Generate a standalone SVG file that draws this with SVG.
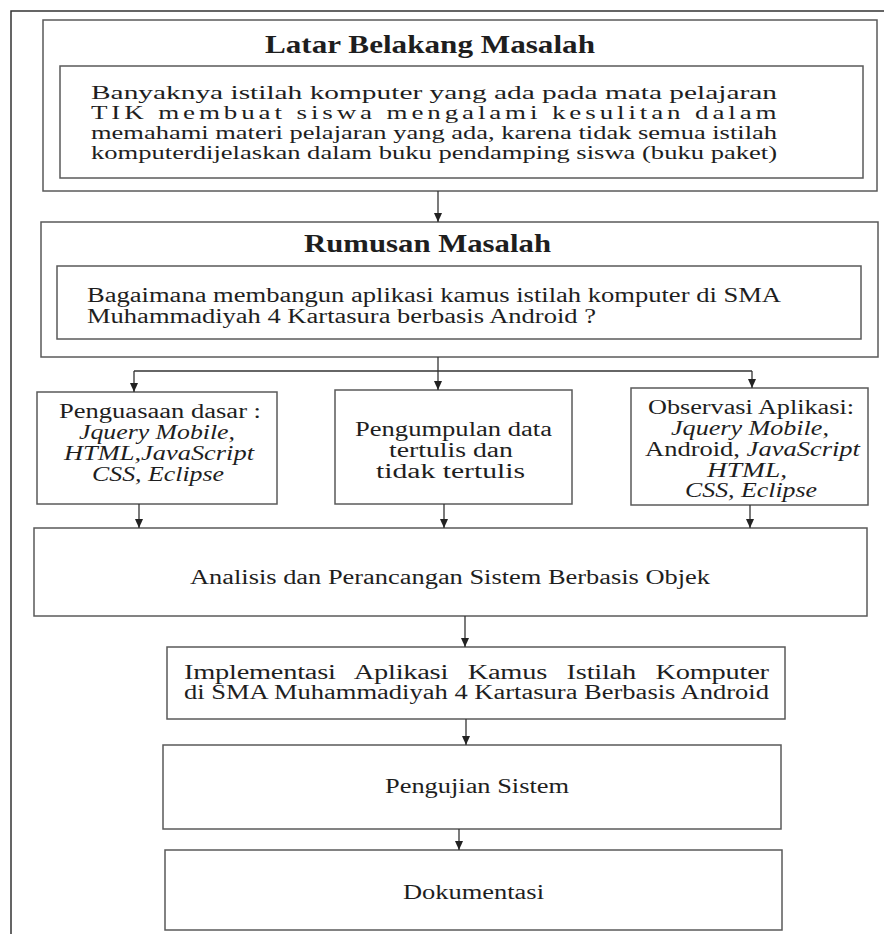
<svg xmlns="http://www.w3.org/2000/svg" width="884" height="934" viewBox="0 0 884 934">
<style>
.bx{fill:#fff;stroke:#5a5a5a;stroke-width:1.5}
.fr{fill:none;stroke:#333;stroke-width:1.5}
.cn{fill:none;stroke:#333;stroke-width:1.3}
.t{font-family:"Liberation Serif","Times New Roman",serif;font-size:20px;fill:#1e1e1e}
.s{font-size:18px}
.tt{font-family:"Liberation Serif","Times New Roman",serif;font-size:25px;font-weight:bold;fill:#1e1e1e}
.i{font-style:italic}
</style>
<defs>
<marker id="ah" markerUnits="userSpaceOnUse" markerWidth="9" markerHeight="8" refX="9" refY="4" orient="auto">
<path d="M0,0 L9,4 L0,8 Z" fill="#222"/>
</marker>
</defs>
<path class="fr" d="M11,934 V11 H884"/>
<g id="latar">
<rect class="bx" x="43" y="20" width="834" height="171"/>
<text class="tt" x="265" y="53" textLength="330" lengthAdjust="spacingAndGlyphs">Latar Belakang Masalah</text>
<rect class="bx" x="60" y="66" width="803" height="112"/>
<text class="t s" x="91" y="99" textLength="686" lengthAdjust="spacingAndGlyphs">Banyaknya istilah komputer yang ada pada mata pelajaran</text>
<g transform="translate(91,0) scale(1.5,1)">
<text class="t s" x="0" y="119" textLength="457" lengthAdjust="spacing">TIK membuat siswa mengalami kesulitan dalam</text>
</g>
<text class="t s" x="91" y="139" textLength="686" lengthAdjust="spacingAndGlyphs">memahami materi pelajaran yang ada, karena tidak semua istilah</text>
<text class="t s" x="91" y="159" textLength="686" lengthAdjust="spacingAndGlyphs">komputerdijelaskan dalam buku pendamping siswa (buku paket)</text>
</g>
<g id="rumusan">
<rect class="bx" x="41" y="222" width="837" height="135"/>
<text class="tt" x="304" y="252" textLength="247" lengthAdjust="spacingAndGlyphs">Rumusan Masalah</text>
<rect class="bx" x="57" y="266" width="804" height="73"/>
<text class="t" x="87" y="302" textLength="694" lengthAdjust="spacingAndGlyphs">Bagaimana membangun aplikasi kamus istilah komputer di SMA</text>
<text class="t" x="87" y="323" textLength="509" lengthAdjust="spacingAndGlyphs">Muhammadiyah 4 Kartasura berbasis Android ?</text>
</g>
<g id="penguasaan">
<rect class="bx" x="37" y="392" width="240" height="112"/>
<text class="t" x="59" y="418" textLength="202" lengthAdjust="spacingAndGlyphs">Penguasaan dasar :</text>
<text class="t i" x="79" y="439" textLength="156" lengthAdjust="spacingAndGlyphs">Jquery Mobile,</text>
<text class="t i" x="64" y="460" textLength="190" lengthAdjust="spacingAndGlyphs">HTML,JavaScript</text>
<text class="t i" x="92" y="481" textLength="132" lengthAdjust="spacingAndGlyphs">CSS, Eclipse</text>
</g>
<g id="pengumpulan">
<rect class="bx" x="335" y="390" width="237" height="114"/>
<text class="t" x="355" y="436" textLength="197" lengthAdjust="spacingAndGlyphs">Pengumpulan data</text>
<text class="t" x="389" y="457" textLength="124" lengthAdjust="spacingAndGlyphs">tertulis dan</text>
<text class="t" x="376" y="478" textLength="149" lengthAdjust="spacingAndGlyphs">tidak tertulis</text>
</g>
<g id="observasi">
<rect class="bx" x="631" y="388" width="237" height="117"/>
<text class="t" x="648" y="414" textLength="206" lengthAdjust="spacingAndGlyphs">Observasi Aplikasi:</text>
<text class="t i" x="671" y="435" textLength="158" lengthAdjust="spacingAndGlyphs">Jquery Mobile,</text>
<text class="t" x="645" y="456" textLength="215" lengthAdjust="spacingAndGlyphs">Android, <tspan class="i">JavaScript</tspan></text>
<text class="t i" x="707" y="477" textLength="80" lengthAdjust="spacingAndGlyphs">HTML,</text>
<text class="t i" x="685" y="497" textLength="132" lengthAdjust="spacingAndGlyphs">CSS, Eclipse</text>
</g>
<g id="analisis">
<rect class="bx" x="34" y="528" width="833" height="88"/>
<text class="t" x="190" y="584" textLength="520" lengthAdjust="spacingAndGlyphs">Analisis dan Perancangan Sistem Berbasis Objek</text>
</g>
<g id="implementasi">
<rect class="bx" x="167" y="647" width="618" height="72"/>
<g transform="translate(184,0) scale(1.42,1)">
<text class="t" x="0" y="679" style="word-spacing:9px" textLength="412" lengthAdjust="spacing">Implementasi Aplikasi Kamus Istilah Komputer</text>
</g>
<text class="t" x="184" y="699" textLength="585" lengthAdjust="spacingAndGlyphs">di SMA Muhammadiyah 4 Kartasura Berbasis Android</text>
</g>
<g id="pengujian">
<rect class="bx" x="163" y="745" width="618" height="84"/>
<text class="t" x="385" y="793" textLength="184" lengthAdjust="spacingAndGlyphs">Pengujian Sistem</text>
</g>
<g id="dokumentasi">
<rect class="bx" x="165" y="850" width="617" height="80"/>
<text class="t" x="403" y="899" textLength="141" lengthAdjust="spacingAndGlyphs">Dokumentasi</text>
</g>
<g id="connectors">
<line class="cn" x1="438" y1="191" x2="438" y2="222" marker-end="url(#ah)"/>
<line class="cn" x1="438" y1="357" x2="438" y2="390" marker-end="url(#ah)"/>
<path class="cn" d="M134,371 H752"/>
<line class="cn" x1="134" y1="371" x2="134" y2="392" marker-end="url(#ah)"/>
<line class="cn" x1="752" y1="371" x2="752" y2="388" marker-end="url(#ah)"/>
<line class="cn" x1="139" y1="504" x2="139" y2="528" marker-end="url(#ah)"/>
<line class="cn" x1="444" y1="504" x2="444" y2="528" marker-end="url(#ah)"/>
<line class="cn" x1="750" y1="505" x2="750" y2="528" marker-end="url(#ah)"/>
<line class="cn" x1="465" y1="616" x2="465" y2="647" marker-end="url(#ah)"/>
<line class="cn" x1="466" y1="719" x2="466" y2="745" marker-end="url(#ah)"/>
<line class="cn" x1="459" y1="829" x2="459" y2="850" marker-end="url(#ah)"/>
</g>
</svg>
